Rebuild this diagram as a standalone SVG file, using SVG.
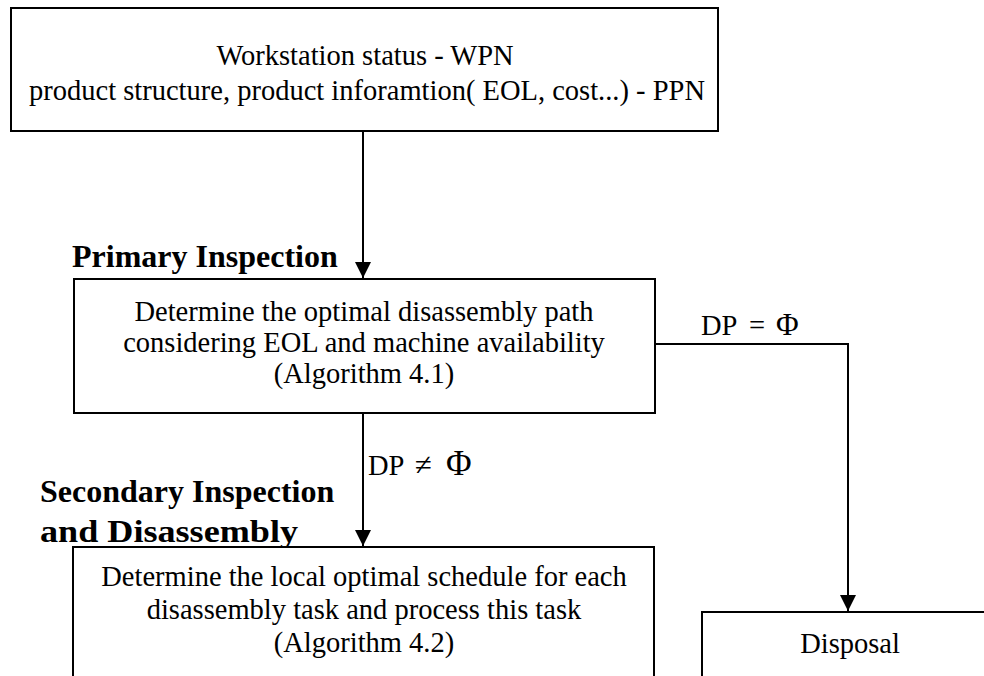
<svg xmlns="http://www.w3.org/2000/svg" width="984" height="676" viewBox="0 0 984 676">
  <style>
    .box { fill: #fff; stroke: #000; stroke-width: 2; }
    .body { font-family: "Liberation Serif", "Times New Roman", serif; font-size: 28.5px; fill: #000; text-anchor: middle; }
    .head { font-family: "Liberation Serif", "Times New Roman", serif; font-size: 32px; font-weight: bold; fill: #000; }
    .lbl { font-family: "Liberation Serif", "Times New Roman", serif; font-size: 28.5px; fill: #000; }
    .wire { fill: none; stroke: #000; stroke-width: 2; }
  </style>
  <defs>
    <marker id="arrow" markerUnits="userSpaceOnUse" markerWidth="16" markerHeight="18" refX="16" refY="8" orient="auto">
      <path d="M0,0 L16,8 L0,16 z" fill="#000"/>
    </marker>
  </defs>
  <rect width="984" height="676" fill="#fff"/>

  <g id="input-data">
    <rect class="box" x="11" y="8" width="707" height="123"/>
    <text class="body" x="365" y="65">Workstation status - WPN</text>
    <text class="body" x="367" y="100">product structure, product inforamtion( EOL, cost...) - PPN</text>
  </g>

  <g id="primary-inspection">
    <text class="head" x="72" y="267">Primary Inspection</text>
    <rect class="box" x="74" y="279" width="581" height="134"/>
    <text class="body" x="364" y="321">Determine the optimal disassembly path</text>
    <text class="body" x="364" y="352">considering EOL and machine availability</text>
    <text class="body" x="364" y="383">(Algorithm 4.1)</text>
  </g>

  <g id="secondary-inspection">
    <text class="head" x="40" y="502">Secondary Inspection</text>
    <text class="head" x="40" y="542" textLength="258" lengthAdjust="spacingAndGlyphs">and Disassembly</text>
    <rect class="box" x="73" y="547" width="581" height="140"/>
    <text class="body" x="364" y="586">Determine the local optimal schedule for each</text>
    <text class="body" x="364" y="619">disassembly task and process this task</text>
    <text class="body" x="364" y="652">(Algorithm 4.2)</text>
  </g>

  <g id="disposal">
    <rect class="box" x="702" y="612" width="300" height="80"/>
    <text class="body" x="850" y="653">Disposal</text>
  </g>

  <g id="connectors">
    <path class="wire" d="M363,131 V278" marker-end="url(#arrow)"/>
    <path class="wire" d="M363,413 V546" marker-end="url(#arrow)"/>
    <path class="wire" d="M655,344 H848 V611" marker-end="url(#arrow)"/>
    <text class="lbl" y="335"><tspan x="701">DP</tspan> <tspan x="749">=</tspan> <tspan x="776" font-size="31px">Φ</tspan></text>
    <text class="lbl" y="475"><tspan x="368">DP</tspan> <tspan x="415" font-size="31px">≠</tspan> <tspan x="446" font-size="35px">Φ</tspan></text>
  </g>
</svg>
